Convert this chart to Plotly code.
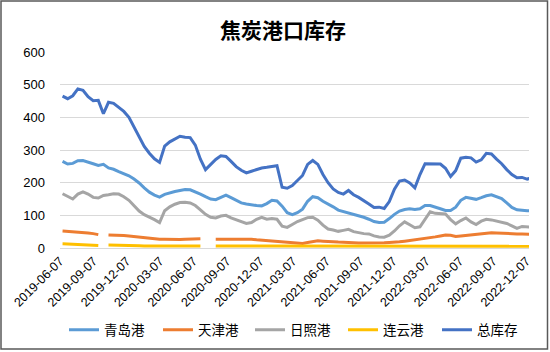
import pandas as pd
import plotly.graph_objects as go

# ---- data (biweekly readings) ----
dates = pd.date_range("2019-06-14", periods=93, freq="14D")

qingdao = [265, 257, 259, 267, 268, 264, 258, 253, 256, 245, 241, 234, 228, 221, 211, 199, 184, 171, 162, 156,
           164, 169, 173, 176, 179, 178, 172, 165, 157, 150, 148, 154, 162, 154, 145, 138, 135, 132, 130, 129,
           136, 146, 144, 128, 108, 102, 108, 119, 143, 157, 154, 143, 135, 126, 116, 112, 108, 104, 99, 94,
           88, 81, 78, 79, 90, 103, 113, 118, 120, 118, 120, 130, 130, 124, 120, 115, 115, 125, 146, 155,
           153, 149, 154, 160, 163, 158, 151, 138, 124, 117, 115, 114, 114]

tianjin = [52, 51, 51, 50, 48, 46, 44, 41, None, 40, 40, 39, 38, 37, 35, 34, 32, 30, 29, 27,
           27, 26, 26, 26, 27, 27, 28, 28, None, None, 27, 27, 28, 28, 29, 29, 28, 27, 25, 24,
           22, 20, 19, 18, 18, 17, 16, 14, 17, 20, 22, 21, 19, 19, 18, 18, 17, 16, 15, 15,
           14, 14, 15, 16, 17, 17, 19, 21, 23, 25, 26, 28, 31, 34, 37, 40, 39, 35, 37, 39,
           40, 42, 44, 45, 47, 46, 45, 43, 43, 43, 43, 42, 42]

rizhao = [166, 158, 150, 165, 172, 165, 155, 153, 161, 163, 166, 165, 157, 146, 130, 113, 102, 95, 87, 78,
          114, 126, 134, 139, 140, 138, 130, 117, 103, 94, 92, 98, 100, 92, 86, 82, 75, 78, 88, 94,
          88, 90, 88, 67, 63, 72, 81, 87, 93, 94, 85, 70, 58, 55, 51, 54, 57, 50, 46, 44,
          43, 37, 34, 33, 39, 52, 68, 80, 71, 62, 65, 88, 111, 106, 106, 104, 87, 74, 84, 92,
          80, 72, 82, 88, 86, 83, 80, 75, 68, 60, 66, 65, 63]

lianyungang = [13, 12, 11, 10, 9, 8, 8, 8, None, 9, 9, 8, 8, 7, 7, 7, 6, 6, 6, 6,
               6, 6, 6, 6, 6, 6, 6, 6, None, None, 6, 6, 6, 6, 6, 6, 6, 6, 6, 6,
               6, 6, 6, 6, 6, 7, 6, 6, 6, 6, 6, 6, 6, 6, 6, 6, 6, 6, 6, 6,
               6, 5, 5, 5, 5, 5, 5, 5, 5, 5, 5, 5, 5, 5, 5, 5, 5, 5, 5, 5,
               5, 5, 5, 5, 5, 5, 5, 5, 5, 5, 5, 5, 5]

total = [465, 457, 466, 487, 483, 463, 451, 452, 411, 446, 443, 429, 418, 400, 371, 342, 311, 290, 273, 262,
         312, 325, 333, 342, 339, 338, 315, 272, 240, 257, 271, 282, 280, 265, 249, 238, 230, 235, 241, 245,
         247, 250, 252, 186, 183, 191, 205, 222, 256, 268, 256, 225, 200, 181, 170, 165, 176, 163, 155, 146,
         135, 124, 125, 121, 142, 180, 205, 208, 199, 184, 225, 258, 258, 256, 257, 244, 219, 237, 275, 278,
         276, 263, 270, 290, 288, 272, 258, 240, 225, 215, 216, 211, 215]

series_names = ["青岛港", "天津港", "日照港", "连云港", "总库存"]
series_values = [qingdao, tianjin, rizhao, lianyungang, total]
colors = ["#5B9BD5", "#ED7D31", "#A5A5A5", "#FFC000", "#4472C4"]

tick_labels = ["2019-06-07", "2019-09-07", "2019-12-07", "2020-03-07", "2020-06-07",
               "2020-09-07", "2020-12-07", "2021-03-07", "2021-06-07", "2021-09-07",
               "2021-12-07", "2022-03-07", "2022-06-07", "2022-09-07", "2022-12-07"]
y_ticks = [0, 100, 200, 300, 400, 500, 600]

# ---- figure ----
W, H = 550, 352
ML, MR, MT, MB = 60, 21, 52, 104
pw, ph = W - ML - MR, H - MT - MB
legend_left_px = [69, 163, 255, 348, 442]  # legend entry placement (layout, px)

fig = go.Figure()
legend_ids = ["legend"] + [f"legend{i}" for i in range(2, 6)]
for name, vals, c, lid in zip(series_names, series_values, colors, legend_ids):
    fig.add_trace(go.Scatter(x=dates, y=vals, name=name, mode="lines", legend=lid,
                             line=dict(color=c, width=3), connectgaps=False))

# outer chart border (pixel positions converted to paper units)
fig.add_shape(type="rect", xref="paper", yref="paper",
              x0=(1 - ML) / pw, x1=(W - 2.5 - ML) / pw,
              y0=-(MB - 3) / ph, y1=(H - MB - 1) / ph,
              line=dict(color="#595959", width=1.5), fillcolor="rgba(0,0,0,0)", layer="above")

legend_style = dict(orientation="h", xref="container", yref="container",
                    xanchor="left", y=1 - 330 / H, yanchor="middle",
                    font=dict(family="Noto Sans CJK SC", size=13.5, color="#000000"),
                    bgcolor="rgba(0,0,0,0)")
legends = {lid: dict(legend_style, x=(px - 5) / W) for lid, px in zip(legend_ids, legend_left_px)}

fig.update_layout(
    width=W, height=H,
    margin=dict(l=ML, r=MR, t=MT, b=MB, autoexpand=False),
    paper_bgcolor="white", plot_bgcolor="white",
    title=dict(text="<b>焦炭港口库存</b>", x=283 / W, xanchor="center", y=1 - 31 / H, yanchor="middle",
               font=dict(family="Noto Sans CJK SC", size=21, color="#000000")),
    font=dict(family="Liberation Sans, Arial", color="#000000"),
    showlegend=True,
    **legends,
    xaxis=dict(type="date", range=["2019-06-07", "2022-12-14"], automargin=False,
               tickmode="array", tickvals=tick_labels, ticktext=tick_labels,
               tickangle=-45, tickfont=dict(size=12.5, family="Liberation Sans, Arial"),
               showgrid=False, showline=True, linecolor="#D9D9D9", linewidth=1,
               ticks="", zeroline=False),
    yaxis=dict(range=[0, 600], tickmode="array", tickvals=y_ticks, automargin=False,
               tickfont=dict(size=13, family="Liberation Sans, Arial"),
               showgrid=True, gridcolor="#D9D9D9", gridwidth=1,
               zeroline=False, showline=False, ticks="", ticklabelstandoff=14),
)

fig.write_html("out.html")
